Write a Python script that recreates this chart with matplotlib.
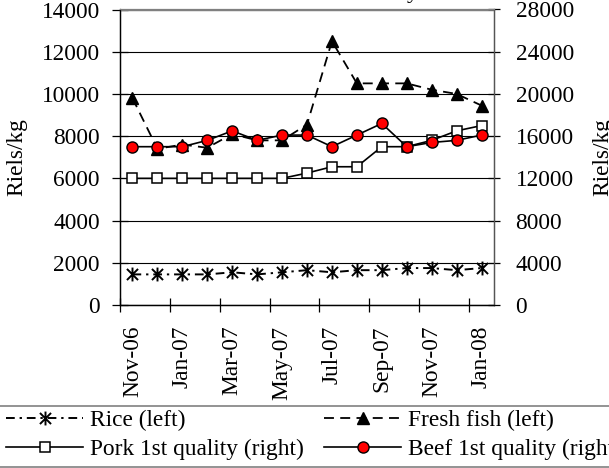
import matplotlib.pyplot as plt
from matplotlib.path import Path
from matplotlib.lines import Line2D

plt.rcParams['font.family'] = ['Liberation Serif', 'DejaVu Serif']

months = ["Nov-06", "Dec-06", "Jan-07", "Feb-07", "Mar-07", "Apr-07", "May-07", "Jun-07",
          "Jul-07", "Aug-07", "Sep-07", "Oct-07", "Nov-07", "Dec-07", "Jan-08"]
# left axis (riels/kg)
rice = [1450, 1450, 1450, 1450, 1550, 1450, 1550, 1650, 1550, 1650, 1650, 1750, 1750, 1650, 1750]
fish = [9800, 7400, 7600, 7450, 8100, 7800, 7800, 8550, 12500, 10500, 10500, 10500, 10200, 10000, 9450]
# right axis (riels/kg)
pork = [12000, 12000, 12000, 12000, 12000, 12000, 12000, 12500, 13100, 13100, 15000, 15000, 15600, 16500, 17000]
beef = [15000, 15000, 15000, 15600, 16500, 15600, 16100, 16100, 15000, 16100, 17200, 15000, 15400, 15600, 16100]

FS = 16.8
W, H = 609, 468
fig = plt.figure(figsize=(W / 100, H / 100), dpi=100)
ax = fig.add_axes([120 / W, 1 - 305 / H, (494 - 120) / W, (305 - 9.5) / H])
ax2 = ax.twinx()

x = list(range(len(months)))

star = Path([(0, -1), (0, 1), (-0.8, -0.8), (0.8, 0.8), (-0.8, 0.8), (0.8, -0.8)],
            [Path.MOVETO, Path.LINETO] * 3)

l_rice, = ax.plot(x, rice, color='black', lw=1.4, linestyle=(0, (4.5, 2.5, 1.2, 2.5)),
                  marker=star, markersize=10, markerfacecolor='none',
                  markeredgecolor='black', markeredgewidth=1.4, label='Rice (left)')
l_fish, = ax.plot(x, fish, color='black', lw=1.3, linestyle=(0, (5.5, 3.5)),
                  marker='^', markersize=8.5, markerfacecolor='black',
                  markeredgecolor='black', label='Fresh fish (left)')
l_pork, = ax2.plot(x, pork, color='black', lw=1.2, marker='s', markersize=7,
                   markerfacecolor='white', markeredgecolor='black', markeredgewidth=1.1,
                   label='Pork 1st quality (right)')
l_beef, = ax2.plot(x, beef, color='black', lw=1.2, marker='o', markersize=8,
                   markerfacecolor='#ff0000', markeredgecolor='black', markeredgewidth=1.0,
                   label='Beef 1st quality (right)')

ax.set_xlim(-0.5, len(months) - 0.5)
ax.set_ylim(0, 14000)
ax.set_yticks(range(0, 14001, 2000))
ax2.set_ylim(0, 28000)
ax2.set_yticks(range(0, 28001, 4000))

ax.yaxis.grid(True, color='black', lw=0.8)
ax.set_axisbelow(True)

# category boundaries get tick marks, labels sit on every second month
ax.set_xticks([i - 0.5 for i in range(0, len(months), 2)])
ax.set_xticklabels([])
ax.set_xticks(x[::2], minor=True)
ax.set_xticklabels(months[::2], minor=True, rotation=90, fontsize=FS)
ax.tick_params(axis='x', which='major', direction='inout', length=10, width=0.9)
ax.tick_params(axis='x', which='minor', length=0, pad=15)

ax.tick_params(axis='y', direction='inout', length=11, width=0.9, labelsize=FS, pad=9)
ax2.tick_params(axis='y', direction='inout', length=9, width=0.9, labelsize=FS, pad=11)

for a in (ax, ax2):
    for s in a.spines.values():
        s.set_linewidth(0.9)
    a.spines['top'].set_color('#808080')
    a.spines['right'].set_color('#555555')

fig.text(17 / W, 1 - 157 / H, "Riels/kg", rotation=90, ha='center', va='center', fontsize=FS)
fig.text(603 / W, 1 - 157 / H, "Riels/kg", rotation=90, ha='center', va='center', fontsize=FS)

# tail of the cut-off chart title
fig.text(418 / W, 1 + 2 / H, "y", ha='right', va='baseline', fontsize=FS)

fig.legend([l_rice, l_pork, l_fish, l_beef],
           [l_rice.get_label(), l_pork.get_label(), l_fish.get_label(), l_beef.get_label()],
           ncol=2, loc='upper left', bbox_to_anchor=(6 / W, 1 - 410 / H),
           frameon=False, fontsize=FS, handlelength=3.3, handletextpad=0.28,
           columnspacing=0.9, borderpad=0, borderaxespad=0, labelspacing=0.32)

for yy in (406, 466.5):
    fig.add_artist(Line2D([0, 1], [1 - yy / H] * 2, transform=fig.transFigure,
                          color='#808080', lw=1.2))

fig.savefig("out.png", dpi=100)
